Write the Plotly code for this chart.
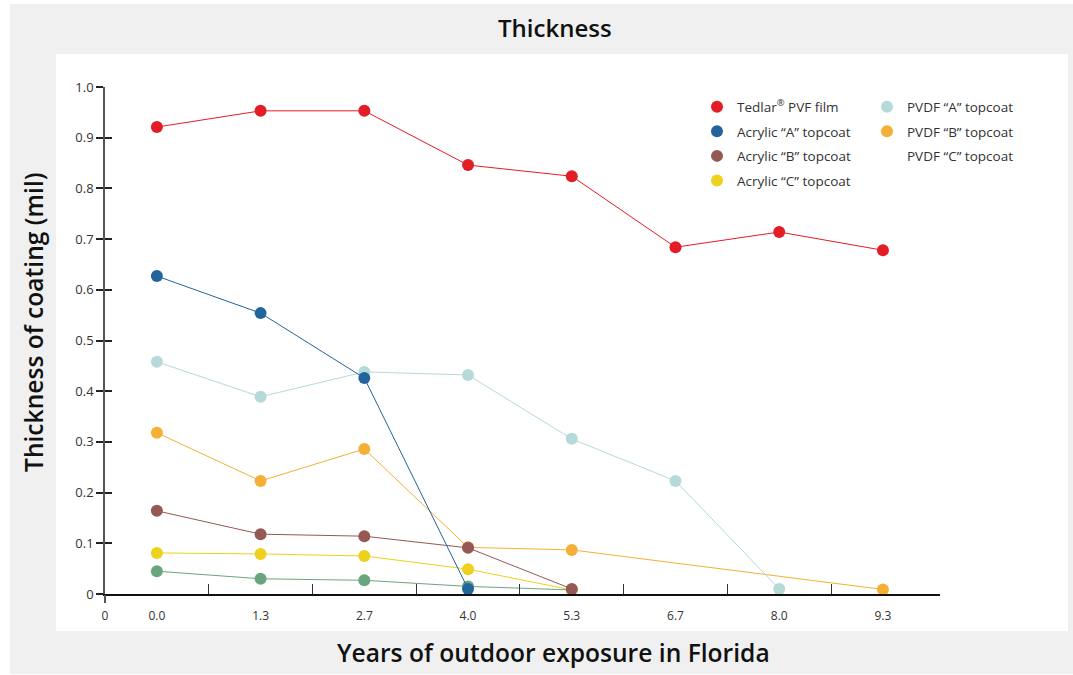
import plotly.graph_objects as go

# ---- data ----
years = ["0.0", "1.3", "2.7", "4.0", "5.3", "6.7", "8.0", "9.3"]
tedlar = [0.921, 0.953, 0.953, 0.846, 0.824, 0.684, 0.714, 0.678]
acrylic_a = [0.627, 0.554, 0.426, 0.010, None, None, None, None]
acrylic_b = [0.164, 0.118, 0.114, 0.091, 0.010, None, None, None]
acrylic_c = [0.081, 0.079, 0.075, 0.049, 0.008, None, None, None]
pvdf_a = [0.458, 0.389, 0.438, 0.432, 0.306, 0.223, 0.010, None]
pvdf_b = [0.318, 0.223, 0.286, 0.092, 0.087, None, None, 0.009]
pvdf_c = [0.045, 0.030, 0.027, 0.015, 0.008, None, None, None]

y_ticks = [0, 0.1, 0.2, 0.3, 0.4, 0.5, 0.6, 0.7, 0.8, 0.9, 1.0]
y_ticktext = ["0", "0.1", "0.2", "0.3", "0.4", "0.5", "0.6", "0.7", "0.8", "0.9", "1.0"]

series = [
    ("Tedlar<sup>®</sup> PVF film", tedlar, "#e31d25", True, "legend"),
    ("Acrylic “A” topcoat", acrylic_a, "#22649b", True, "legend"),
    ("Acrylic “B” topcoat", acrylic_b, "#945955", True, "legend"),
    ("Acrylic “C” topcoat", acrylic_c, "#edd11d", True, "legend"),
    ("PVDF “A” topcoat", pvdf_a, "#b6d9da", True, "legend2"),
    ("PVDF “B” topcoat", pvdf_b, "#f5af37", True, "legend2"),
    ("PVDF “C” topcoat", pvdf_c, "#6ba57e", False, "legend2"),
]

xidx = list(range(len(years)))

# pixel geometry helpers
W, H = 1073, 675
L, R, T, B = 105, 940, 87, 594
def px(x):
    return (x - L) / (R - L)
def py(y):
    return (B - y) / (B - T)

fig = go.Figure()

# data traces (drawn in reverse so early series sit on top)
for name, vals, color, _, _ in reversed(series):
    xs = [i for i, v in zip(xidx, vals) if v is not None]
    ys = [v for v in vals if v is not None]
    fig.add_trace(go.Scatter(
        x=xs, y=ys, mode="lines+markers", showlegend=False,
        line=dict(color=color, width=1),
        marker=dict(color=color, size=12),
        cliponaxis=False, hoverinfo="skip",
    ))

# legend entries
for i, (name, vals, color, show_marker, lg) in enumerate(series):
    fig.add_trace(go.Scatter(
        x=[None], y=[None], mode="markers", name=name, legend=lg,
        legendgroup=str(i),
        marker=dict(color=color if show_marker else "rgba(0,0,0,0)", size=12),
    ))

# helper trace for overlay axes
fig.add_trace(go.Scatter(x=[None], y=[None], xaxis="x2", yaxis="y2",
                         showlegend=False, hoverinfo="skip"))

xrange = [-0.5, 7.55]
title_font = dict(family="Open Sans, Noto Sans, sans-serif", size=24, color="#111", weight=600)
axis_title_font = dict(family="Open Sans, Noto Sans, sans-serif", size=24.6, color="#111", weight=600)
fig.update_layout(
    width=W, height=H,
    margin=dict(l=L, r=W - R, t=T, b=H - B),
    paper_bgcolor="white", plot_bgcolor="rgba(0,0,0,0)",
    font=dict(family="Open Sans, Noto Sans, sans-serif", color="#333", size=13),
    xaxis=dict(
        range=xrange, tickvals=[-0.5] + xidx, ticktext=["0"] + years,
        ticks="", showgrid=False, zeroline=False,
        showline=True, linecolor="#111", linewidth=2,
        ticklabelstandoff=10, tickfont=dict(size=12, color="#333"),
        minor=dict(tickvals=[0.5, 1.5, 2.5, 3.5, 4.5, 5.5, 6.5], ticks="inside",
                   ticklen=10, tickcolor="#333", tickwidth=1),
    ),
    xaxis2=dict(
        overlaying="x", matches="x", range=xrange, tickvals=[-0.5],
        ticks="outside", ticklen=8, tickcolor="#555", tickwidth=1.5,
        showticklabels=False, showgrid=False, zeroline=False, showline=False,
    ),
    yaxis=dict(
        range=[0, 1.0], tickvals=y_ticks, ticktext=y_ticktext,
        ticks="outside", ticklen=7, tickcolor="#222", tickwidth=1.5,
        showgrid=False, zeroline=False, showline=True, linecolor="#555",
        linewidth=1.5, tickfont=dict(size=13, color="#333"),
    ),
    yaxis2=dict(
        overlaying="y", matches="y", range=[0, 1.0], tickvals=y_ticks,
        ticks="inside", ticklen=7, tickcolor="#222", tickwidth=1.5,
        showticklabels=False, showgrid=False, zeroline=False, showline=False,
    ),
    legend=dict(
        x=px(697), y=py(91.5), xanchor="left", yanchor="top",
        bgcolor="rgba(0,0,0,0)", font=dict(size=13.5, color="#333"),
        traceorder="grouped", tracegroupgap=4,
    ),
    legend2=dict(
        x=px(867), y=py(91.5), xanchor="left", yanchor="top",
        bgcolor="rgba(0,0,0,0)", font=dict(size=13.5, color="#333"),
        traceorder="grouped", tracegroupgap=4,
    ),
    shapes=[
        dict(type="rect", xref="paper", yref="paper", layer="below",
             x0=px(10), x1=px(1073), y0=py(674), y1=py(4),
             fillcolor="#f0f0f0", line=dict(width=0)),
        dict(type="rect", xref="paper", yref="paper", layer="below",
             x0=px(56), x1=px(1068), y0=py(631), y1=py(54),
             fillcolor="white", line=dict(width=0)),
    ],
    annotations=[
        dict(text="Thickness", xref="paper", yref="paper",
             x=px(555), y=py(27), xanchor="center", yanchor="middle",
             showarrow=False, font=title_font),
        dict(text="Years of outdoor exposure in Florida", xref="paper", yref="paper",
             x=px(553), y=py(652), xanchor="center", yanchor="middle",
             showarrow=False, font=axis_title_font),
        dict(text="Thickness of coating (mil)", xref="paper", yref="paper",
             x=px(33), y=py(322), xanchor="center", yanchor="middle", textangle=-90,
             showarrow=False, font=axis_title_font),
    ],
)

fig.write_html("out.html", config={"displayModeBar": False},
               post_script="document.body.style.margin='0';")
